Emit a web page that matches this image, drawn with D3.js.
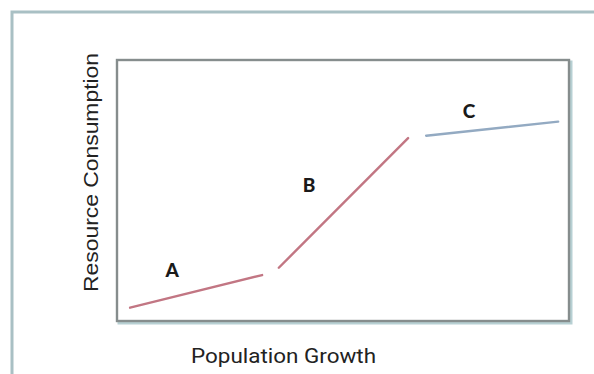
<!DOCTYPE html>
<html>
<head>
<meta charset="utf-8">
<script src="https://cdn.jsdelivr.net/npm/d3@7"></script>
<style>
  body { margin: 0; background: #fff; }
  svg { display: block; }
</style>
</head>
<body>
<svg width="594" height="374"></svg>
<script>
// phases of the curve (0-100 scale on both axes)
let phases = ["A", "B", "C"];
let phaseX = [[2.9, 32.1], [35.8, 64.4], [68.4, 97.6]];
let phaseY = [[5.1, 17.6], [20.4, 70.1], [71.0, 76.4]];
let phaseColors = ["#c27683", "#c27683", "#93aac2"];
let labelX = [12.2, 42.5, 77.9];
let labelY = [16.9, 49.4, 77.8];

let xTitle = "Population Growth";
let yTitle = "Resource Consumption";

let svg = d3.select("svg");
let width = +svg.attr("width");
let height = +svg.attr("height");
let margin = {left: 117, right: 25, top: 60, bottom: 53};

let x = d3.scaleLinear().domain([0, 100]).range([margin.left, width - margin.right]);
let y = d3.scaleLinear().domain([0, 100]).range([height - margin.bottom, margin.top]);

// outer frame (top and left edges only are visible)
svg.append("path")
    .attr("d", `M12,${height} L12,12 L${width},12`)
    .attr("fill", "none")
    .attr("stroke", "#a9c0c4")
    .attr("stroke-width", 3);

// plot box with a soft shadow
let x0 = x(0), x1 = x(100), y0 = y(0), y1 = y(100);
svg.append("rect")
    .attr("x", x0 + 2).attr("y", y1 + 2)
    .attr("width", x1 - x0).attr("height", y0 - y1)
    .attr("fill", "none")
    .attr("stroke", "#b7d0d3")
    .attr("stroke-width", 3);
svg.append("rect")
    .attr("x", x0).attr("y", y1)
    .attr("width", x1 - x0).attr("height", y0 - y1)
    .attr("fill", "#fff")
    .attr("stroke", "#868d8d")
    .attr("stroke-width", 2.4);

let segs = phases.map((p, i) => ({name: p, xs: phaseX[i], ys: phaseY[i], color: phaseColors[i]}));

svg.append("g")
    .selectAll("line")
    .data(segs)
    .enter().append("line")
    .attr("x1", d => x(d.xs[0]))
    .attr("y1", d => y(d.ys[0]))
    .attr("x2", d => x(d.xs[1]))
    .attr("y2", d => y(d.ys[1]))
    .attr("stroke", d => d.color)
    .attr("stroke-width", 2.4)
    .attr("stroke-linecap", "round");

svg.append("g")
    .selectAll("text")
    .data(phases)
    .enter().append("text")
    .attr("x", (d, i) => x(labelX[i]))
    .attr("y", (d, i) => y(labelY[i]))
    .attr("text-anchor", "middle")
    .attr("font-family", "Lato, 'Open Sans', sans-serif")
    .attr("font-weight", "900")
    .attr("font-size", 19)
    .attr("fill", "#1a1a1a")
    .text(d => d);

// axis titles
svg.append("text")
    .attr("x", 283.5)
    .attr("y", 363)
    .attr("text-anchor", "middle")
    .attr("font-family", "Roboto, sans-serif")
    .attr("font-size", 20)
    .attr("fill", "#222")
    .attr("textLength", 185)
    .attr("lengthAdjust", "spacingAndGlyphs")
    .text(xTitle);

svg.append("text")
    .attr("transform", "translate(98,172.5) rotate(-90)")
    .attr("text-anchor", "middle")
    .attr("font-family", "'Liberation Sans', Arial, sans-serif")
    .attr("font-size", 20)
    .attr("fill", "#222")
    .attr("textLength", 239)
    .attr("lengthAdjust", "spacingAndGlyphs")
    .text(yTitle);
</script>
</body>
</html>
